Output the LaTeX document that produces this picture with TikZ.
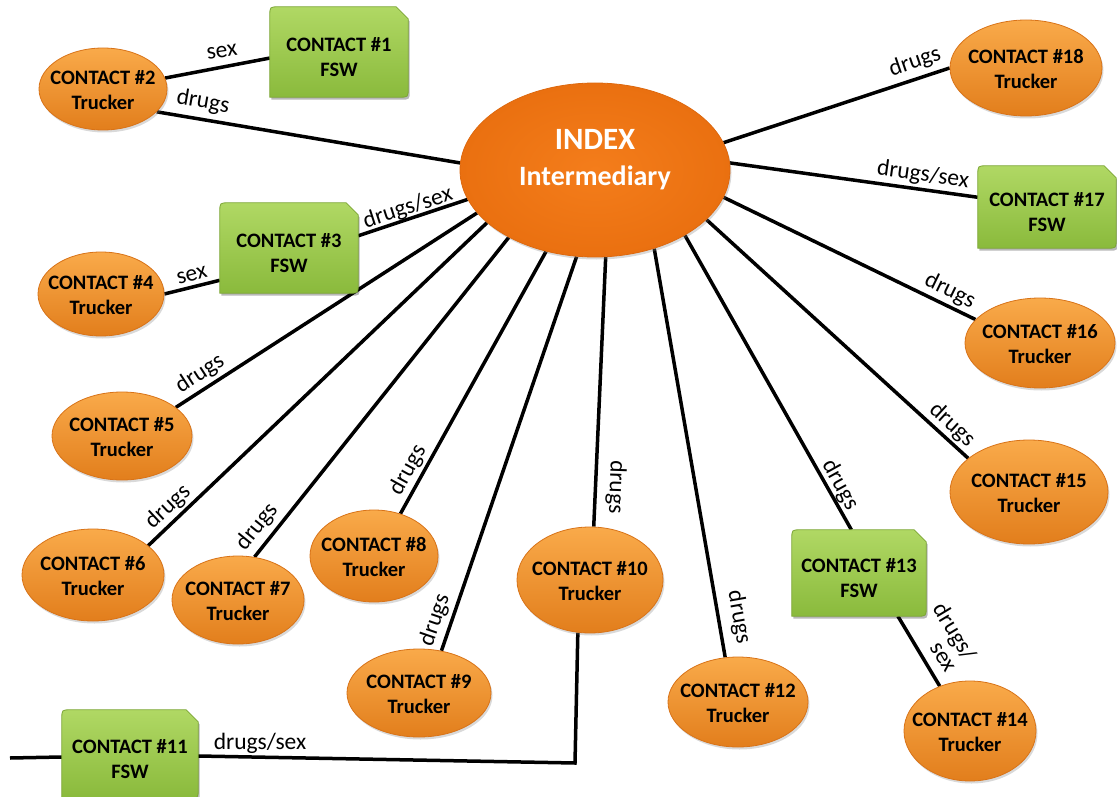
\documentclass[tikz,border=0pt]{standalone}
\usepackage{fontspec}
\setmainfont{Carlito}
\usetikzlibrary{shapes.geometric,backgrounds,shadows}
\definecolor{orgTop}{HTML}{F9AA4A}
\definecolor{orgMid}{HTML}{F59533}
\definecolor{orgBot}{HTML}{E27E1C}
\definecolor{orgEdge}{HTML}{D87318}
\definecolor{idxIn}{HTML}{F47D1B}
\definecolor{idxOut}{HTML}{EA7010}
\definecolor{idxEdge}{HTML}{DD680E}
\definecolor{grnTop}{HTML}{B0D864}
\definecolor{grnBot}{HTML}{8ABA3C}
\definecolor{grnEdge}{HTML}{7BA533}
\newcommand\fswpath[1]{(#1.south west) -- ([yshift=-9pt]#1.north west) .. controls (#1.north west) .. ([xshift=9pt]#1.north west) -- ([xshift=-12pt]#1.north east) -- ([yshift=-12pt]#1.north east) -- ([yshift=9pt]#1.south east) .. controls (#1.south east) .. ([xshift=-9pt]#1.south east) -- cycle}
\newcommand\fswshape[1]{%
  \fill[black,opacity=0.28,transform canvas={xshift=1.5pt,yshift=-2.5pt}] \fswpath{#1};
  \shade[top color=grnTop,bottom color=grnBot,draw=grnEdge,line width=0.8pt] \fswpath{#1};}
\tikzset{
  ctext/.style={align=center,inner sep=0pt,font=\bfseries\fontsize{20.5}{25}\selectfont,text=black},
  trk/.style={ellipse,draw=orgEdge,line width=0.8pt,top color=orgTop,middle color=orgMid,bottom color=orgBot,
    inner sep=0pt,drop shadow={shadow xshift=1.5pt,shadow yshift=-2.5pt,opacity=0.3},
    label={[ctext,yshift=-1pt]center:#1}},
  fsw/.style={rectangle,inner sep=0pt,label={[ctext,yshift=-5.5pt]center:#1}},
  lbl/.style={font=\fontsize{23.5}{25}\selectfont,inner sep=0pt},
  link/.style={line width=3.5pt,black},
}
\begin{document}
\begin{tikzpicture}[x=1pt,y=-1pt]
\useasboundingbox (0,0) rectangle (1117,797);
% central node
\node[ellipse,minimum width=270pt,minimum height=174pt,inner color=idxIn,outer color=idxOut,draw=idxEdge,line width=0.8pt,
  drop shadow={shadow xshift=1.5pt,shadow yshift=-2.5pt,opacity=0.3},
  label={[align=center,text=white,inner sep=0pt,font=\bfseries\fontsize{28}{36}\selectfont,yshift=10pt]center:{\fontsize{31}{36}\selectfont INDEX}\\Intermediary}] (idx) at (595,170) {};
% truckers
\node[trk={CONTACT \#2\\Trucker},minimum width=128pt,minimum height=82pt] (c2) at (103,89) {};
\node[trk={CONTACT \#4\\Trucker},minimum width=126pt,minimum height=84pt] (c4) at (101,294) {};
\node[trk={CONTACT \#5\\Trucker},minimum width=140pt,minimum height=88pt] (c5) at (122,436) {};
\node[trk={CONTACT \#6\\Trucker},minimum width=142pt,minimum height=92pt] (c6) at (93,575) {};
\node[trk={CONTACT \#7\\Trucker},minimum width=132pt,minimum height=88pt] (c7) at (238,600) {};
\node[trk={CONTACT \#8\\Trucker},minimum width=128pt,minimum height=92pt] (c8) at (374,556) {};
\node[trk={CONTACT \#9\\Trucker},minimum width=144pt,minimum height=88pt] (c9) at (419,693) {};
\node[trk={CONTACT \#10\\Trucker},minimum width=146pt,minimum height=106pt] (c10) at (590,580) {};
\node[trk={CONTACT \#12\\Trucker},minimum width=140pt,minimum height=90pt] (c12) at (738,702) {};
\node[trk={CONTACT \#14\\Trucker},minimum width=132pt,minimum height=100pt] (c14) at (970,731) {};
\node[trk={CONTACT \#15\\Trucker},minimum width=158pt,minimum height=104pt] (c15) at (1029,492) {};
\node[trk={CONTACT \#16\\Trucker},minimum width=150pt,minimum height=90pt] (c16) at (1040,343) {};
\node[trk={CONTACT \#18\\Trucker},minimum width=152pt,minimum height=96pt] (c18) at (1026,68) {};
% FSW boxes
\node[fsw={CONTACT \#1\\FSW},minimum width=138pt,minimum height=90pt] (c1) at (339,52) {};
\node[fsw={CONTACT \#3\\FSW},minimum width=138pt,minimum height=90pt] (c3) at (289,248) {};
\node[fsw={CONTACT \#11\\FSW},minimum width=136pt,minimum height=88pt] (c11) at (130,754) {};
\node[fsw={CONTACT \#13\\FSW},minimum width=134pt,minimum height=86pt] (c13) at (859,573) {};
\node[fsw={CONTACT \#17\\FSW},minimum width=138pt,minimum height=82pt] (c17) at (1047,207) {};
\coordinate (k) at (575,763);
\coordinate (e) at (10,758);
\begin{scope}[on background layer]
\draw[link] (c2.10) -- (c1.185);
\draw[link] (c2.337) -- (idx.177);
\draw[link] (idx.193) -- (c3.10);
\draw[link] (c3.205) -- (c4.0);
\draw[link] (idx.200) -- (c5.28);
\draw[link] (idx.206) -- (c6.28);
\draw[link] (idx.218) -- (c7.69);
\draw[link] (idx.239) -- (c8.58);
\draw[link] (idx.258) -- (c9.62);
\draw[link] (idx.277) -- (c10.86);
\draw[link] (c10.257) -- (k) -- ([yshift=-2pt]c11.east);
\draw[link] (e) -- ([yshift=-3pt]c11.west);
\draw[link] (idx.307) -- (c12.106);
\draw[link] (idx.324) -- (c13.100);
\draw[link] (c13.312) -- (c14.124);
\draw[link] (idx.336) -- (c15.151);
\draw[link] (idx.348) -- (c16.160);
\draw[link] (idx.3) -- (c17.172);
\draw[link] (idx.12) -- (c18.180);
\fswshape{c1}
\fswshape{c3}
\fswshape{c11}
\fswshape{c13}
\fswshape{c17}
\end{scope}
% connector labels
\node[lbl,rotate=8] (l1) at (222,52) {sex};
\node[lbl,rotate=-10] (l2) at (203,102) {drugs};
\node[lbl,rotate=18] (l3) at (408,208) {drugs/sex};
\node[lbl,rotate=15] (l4) at (192,275) {sex};
\node[lbl,rotate=33] (l5) at (200,374) {drugs};
\node[lbl,rotate=43] (l6) at (168,507) {drugs};
\node[lbl,rotate=51] (l7) at (257,527) {drugs};
\node[lbl,rotate=61] (l8) at (408,470) {drugs};
\node[lbl,rotate=71] (l9) at (435,620) {drugs};
\node[lbl,rotate=-92] (l10) at (616,487) {drugs};
\node[lbl] (l11) at (260,743) {drugs/sex};
\node[lbl,rotate=-80] (l12) at (739,617) {drugs};
\node[lbl,rotate=-61] (l13) at (840,485) {drugs};
\node[lbl,rotate=-59,align=right,font=\fontsize{23.5}{22}\selectfont] (l14) at (946,637) {drugs/\\sex};
\node[lbl,rotate=-42.5] (l15) at (952,425) {drugs};
\node[lbl,rotate=-26] (l16) at (950,291) {drugs};
\node[lbl,rotate=-8] (l17) at (923,175) {drugs/sex};
\node[lbl,rotate=19] (l18) at (915,62) {drugs};
\end{tikzpicture}
\end{document}
